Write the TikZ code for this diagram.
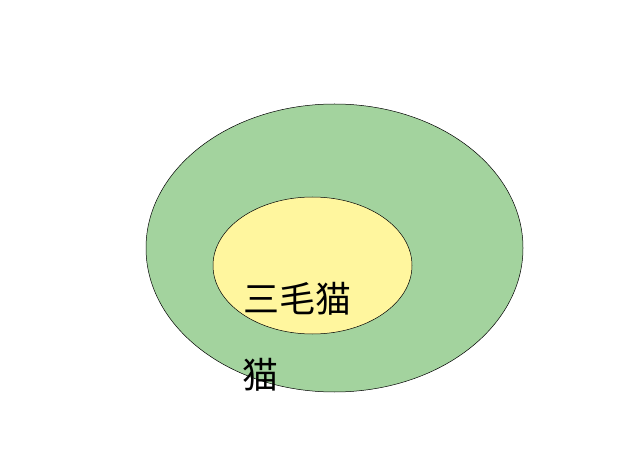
\documentclass[tikz,border=0pt]{standalone}
\usepackage{fontspec}
\newfontfamily\cjk{Noto Sans CJK JP}
\usetikzlibrary{shapes.geometric}
\definecolor{catgreen}{RGB}{163,211,158}
\definecolor{mikeyellow}{RGB}{255,246,158}
\begin{document}
\begin{tikzpicture}[x=1pt,y=-1pt,line width=.5pt,
  set/.style={ellipse,draw=black,inner sep=0pt},
  lbl/.style={font=\cjk\fontsize{36}{36}\selectfont,inner sep=0pt}]
\useasboundingbox (0,0) rectangle (626,470);
\node[set,fill=catgreen,minimum width=377pt,minimum height=288pt] (cat) at (334.5,248){};
\node[set,fill=mikeyellow,minimum width=199pt,minimum height=137pt] (mike) at (312.5,265.5){};
\node[lbl] (mikelbl) at (297.5,299){三毛猫};
\node[lbl] (catlbl) at (260.5,375){猫};
\end{tikzpicture}
\end{document}
